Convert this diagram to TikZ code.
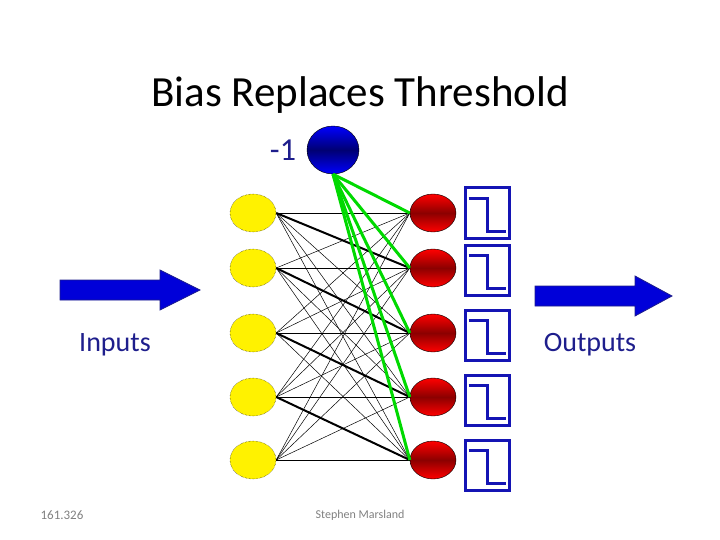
\documentclass[tikz,border=0pt]{standalone}
\usepackage{fontspec}
\setmainfont{Carlito}
\usetikzlibrary{arrows.meta,shapes.geometric}
\definecolor{navy}{RGB}{30,30,140}
\definecolor{boxblue}{RGB}{20,20,180}
\begin{document}
\begin{tikzpicture}[x=1pt,y=-1pt,
  inp/.style={ellipse,draw=black,densely dotted,fill=yellow,minimum width=46pt,minimum height=38pt,inner sep=0pt},
  outp/.style={ellipse,draw=black,top color=red,bottom color=red,middle color=red!55!black,minimum width=46pt,minimum height=38pt,inner sep=0pt},
  bias/.style={ellipse,draw=black,top color=blue,bottom color=blue,middle color=blue!45!black,minimum width=52pt,minimum height=48pt,inner sep=0pt},
  stepbox/.style={draw=boxblue,line width=3pt,minimum width=44pt,minimum height=50pt,inner sep=0pt},
  wire/.style={black,line width=0.5pt},
  strong/.style={black,line width=2pt},
  biaswire/.style={green!85!black,line width=3pt},
  bigarrow/.style={draw=navy,fill=blue!85!black,line width=0.8pt}
]
\useasboundingbox (0,0) rectangle (720,540);
\node[font=\fontsize{43}{50}\selectfont] (title) at (360,95) {Bias Replaces Threshold};
\node[bias] (b) at (333,150) {};
\node[text=navy,font=\fontsize{32}{38}\selectfont] (m1) at (283,150) {-1};
\foreach \i/\y in {1/213,2/268,3/333,4/397,5/460}{
  \node[inp] (i\i) at (253,\y) {};
  \node[outp] (o\i) at (433,\y) {};
}
\foreach \i in {1,...,5}{\foreach \j in {1,...,5}{
  \draw[wire] (i\i.east) -- (o\j.west);}}
\foreach \i/\j in {1/2,2/3,3/4,4/5}{\draw[strong] (i\i.east) -- (o\j.west);}
\foreach \j in {1,...,5}{\draw[biaswire] (b.south) -- (o\j.west);}
\foreach \k/\y in {1/213,2/270,3/335,4/400,5/465}{
  \node[stepbox] (s\k) at (487,\y) {};
  \draw[boxblue,line width=3pt] ([shift={(5,12)}]s\k.north west) -| ([shift={(0,-8)}]s\k.south) -- ([shift={(-5,-8)}]s\k.south east);
}
\draw[bigarrow] (60,280) -- (160,280) -- (160,270) -- (200,290) -- (160,310) -- (160,300) -- (60,300) -- cycle;
\draw[bigarrow] (535,286) -- (635,286) -- (635,276) -- (672,296) -- (635,316) -- (635,306) -- (535,306) -- cycle;
\node[text=navy,font=\fontsize{28}{32}\selectfont] (inl) at (115,345) {Inputs};
\node[text=navy,font=\fontsize{28}{32}\selectfont] (outl) at (590,345) {Outputs};
\node[text=gray,font=\fontsize{13}{15}\selectfont] (f1) at (62,515) {161.326};
\node[text=gray,font=\fontsize{12}{14}\selectfont] (f2) at (360,515) {Stephen Marsland};
\end{tikzpicture}
\end{document}
